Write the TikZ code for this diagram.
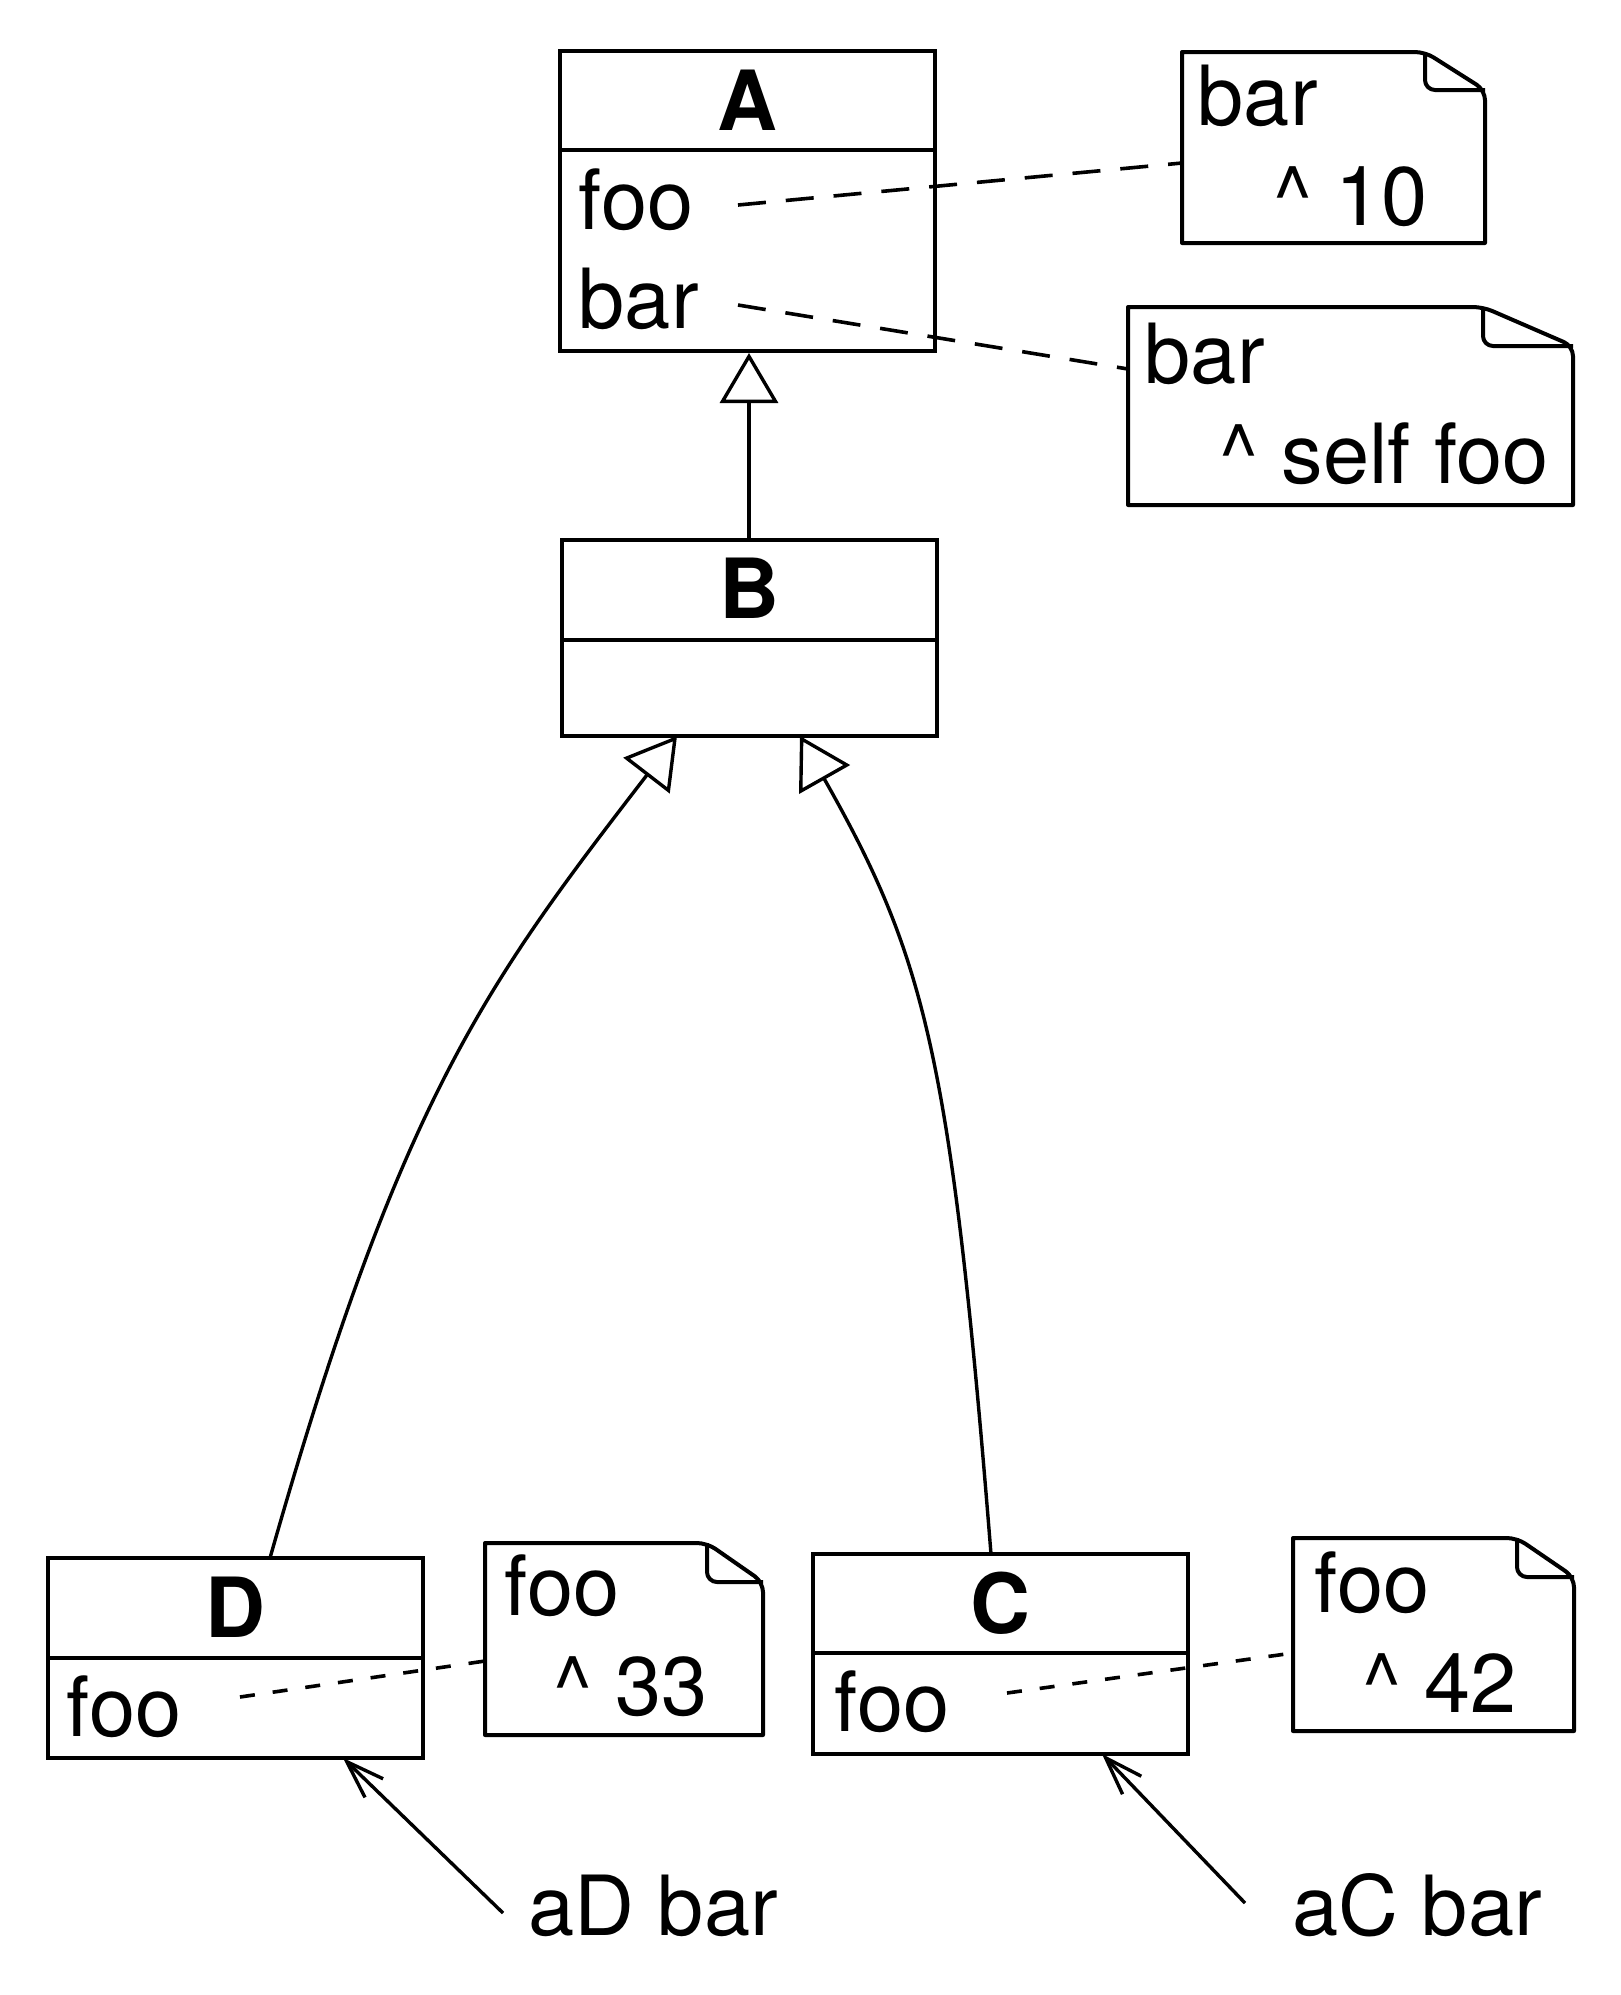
\documentclass[tikz,border=0pt]{standalone}
\usepackage{fontspec}
\setmainfont{TeX Gyre Heros}
\usetikzlibrary{arrows.meta,fit}

% note with a folded top-right corner: name, left, top, right, bottom, fold width, fold height
\newcommand\umlnote[7]{%
  \node[fit={(#2,#3) (#4,#5)}, inner sep=0pt] (#1) {};
  \draw[notedraw] (#2,#5) -- (#2,#3) [rounded corners=2.5pt] -- ({#4-#6},#3) -- (#4,{#3+#7}) [sharp corners] -- (#4,#5) -- cycle;
  \draw[notedraw] ({#4-#6},#3) [rounded corners=2.5pt] -- ({#4-#6},{#3+#7}) -- (#4,{#3+#7});
}

\begin{document}
\begin{tikzpicture}[x=0.25pt,y=-0.25pt,
  font=\fontsize{20.75}{25}\selectfont,
  classbox/.style={draw, line width=1pt, inner sep=0pt},
  notedraw/.style={line width=1pt, line join=round},
  member/.style={inner sep=0pt, anchor=base west},
  title/.style={inner sep=0pt, anchor=base, font=\fontsize{20.75}{25}\selectfont\bfseries},
  divider/.style={line width=1pt},
  link/.style={line width=0.85pt},
  notelink/.style={line width=0.9pt, dash pattern=on 3.75pt off 4.5pt},
  notelinkwide/.style={line width=0.9pt, dash pattern=on 7pt off 5pt},
  inherit/.style={link, -{Triangle[open, length=12.5pt, width=14.5pt, line width=0.85pt]}},
  call/.style={link, -{Straight Barb[length=9.5pt, width=6.5pt, line width=0.85pt]}},
]
\useasboundingbox (0,0) rectangle (1620,1995);

% ---------- classes ----------
\node[classbox, fit={(560,51) (935,351)}] (A) {};
\draw[divider] (560,150) -- (935,150);
\node[title] (Aname) at (747.5,130) {A};
\node[member] (Afoo) at (578,229) {foo};
\node[member] (Abar) at (578,328) {bar};

\node[classbox, fit={(562,540) (937,736)}] (B) {};
\draw[divider] (562,640) -- (937,640);
\node[title] (Bname) at (749.5,618) {B};

\node[classbox, fit={(48,1558) (423,1758)}] (D) {};
\draw[divider] (48,1658) -- (423,1658);
\node[title] (Dname) at (235.5,1637) {D};
\node[member] (Dfoo) at (66,1736) {foo};

\node[classbox, fit={(813,1554) (1188,1754)}] (C) {};
\draw[divider] (813,1653) -- (1188,1653);
\node[title] (Cname) at (1000.5,1633) {C};
\node[member] (Cfoo) at (834,1731) {foo};

% ---------- notes ----------
\umlnote{N1}{1182}{52}{1485}{243}{60}{38}
\node[member] (N1a) at (1197,125) {bar};
\node[member] (N1b) at (1273,225) {\textasciicircum{} 10};

\umlnote{N2}{1128}{307}{1573}{505}{90}{39}
\node[member] (N2a) at (1144,383) {bar};
\node[member] (N2b) at (1219,483) {\textasciicircum{} self foo};

\umlnote{ND}{485}{1543}{763}{1735}{56}{39}
\node[member] (NDa) at (504,1615) {foo};
\node[member] (NDb) at (553,1715) {\textasciicircum{} 33};

\umlnote{NC}{1293}{1538}{1574}{1731}{57}{39}
\node[member] (NCa) at (1314,1612) {foo};
\node[member] (NCb) at (1362,1712) {\textasciicircum{} 42};

% ---------- message sends ----------
\node[member] (aD) at (528,1935) {aD bar};
\node[member] (aC) at (1292,1935) {aC bar};

% ---------- ports ----------
\coordinate (Afoo-p) at (738,205);
\coordinate (Abar-p) at (738,305);
\coordinate (N1-p) at (1182,163);
\coordinate (N2-p) at (1128,369);
\coordinate (Dfoo-p) at (240,1697);
\coordinate (ND-p) at (485,1661);
\coordinate (Cfoo-p) at (1007,1693);
\coordinate (NC-p) at (1293,1653);
\coordinate (aD-p) at (503,1913);
\coordinate (aC-p) at (1245,1903);
\coordinate (Dcall) at (343,1758);
\coordinate (Ccall) at (1102,1754);
\coordinate (Btop) at (749,540);
\coordinate (Dtop) at (270,1558);
\coordinate (Ctop) at (991,1554);
\coordinate (BsubD) at (677,736);
\coordinate (BsubC) at (800,736);

% ---------- comment links ----------
\draw[notelinkwide] (Afoo-p) -- (N1-p);
\draw[notelinkwide] (Abar-p) -- (N2-p);
\draw[notelink] (Dfoo-p) -- (ND-p);
\draw[notelink] (Cfoo-p) -- (NC-p);

% ---------- generalisations ----------
\draw[inherit] (Btop) -- (Btop |- A.south);
\draw[inherit] (Dtop) .. controls (400,1100) and (485,985) .. (BsubD);
\draw[inherit] (Ctop) .. controls (951,1054) and (925,957) .. (BsubC);

% ---------- calls ----------
\draw[call] (aD-p) -- (Dcall);
\draw[call] (aC-p) -- (Ccall);
\end{tikzpicture}
\end{document}
